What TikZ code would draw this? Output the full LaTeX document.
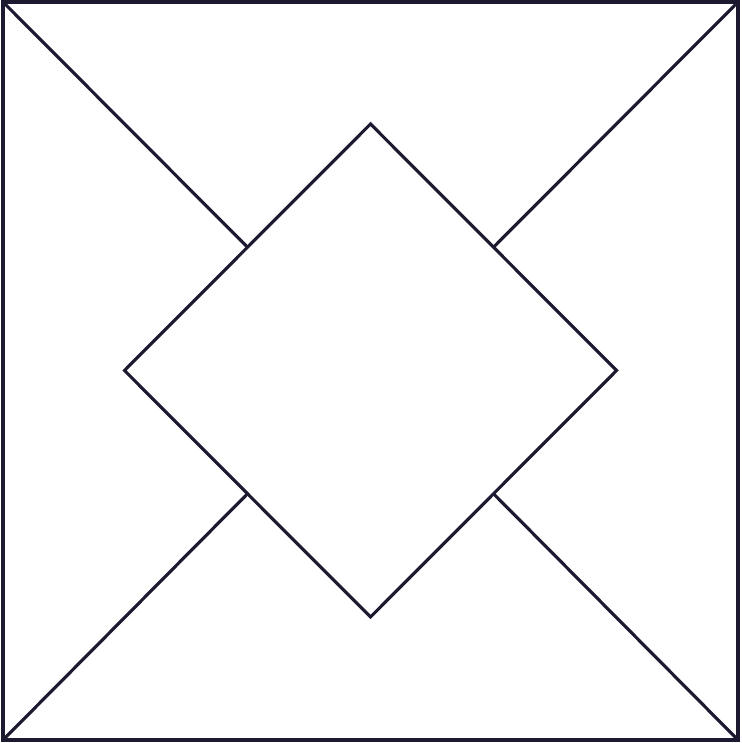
\documentclass[tikz,border=0pt]{standalone}
\usepackage{tikz}
\usetikzlibrary{calc}

\definecolor{ink}{HTML}{1C1A30}

\begin{document}
\begin{tikzpicture}[
    outline/.style={draw=ink, line width=0.9pt, line join=miter},
    diag/.style={draw=ink, line width=0.9pt}
]

\useasboundingbox (0,0) rectangle (7.41,7.43);

% Outer square
\coordinate (sw) at (0.03,0.03);
\coordinate (se) at (7.38,0.03);
\coordinate (ne) at (7.38,7.41);
\coordinate (nw) at (0.03,7.41);
\draw[outline] (sw) -- (se) -- (ne) -- (nw) -- cycle;

% Diamond
\coordinate (top) at (3.705,6.19);
\coordinate (right) at (6.165,3.725);
\coordinate (bottom) at (3.705,1.26);
\coordinate (left) at (1.245,3.725);
\draw[outline] (top) -- (right) -- (bottom) -- (left) -- cycle;

% Diagonals up to the diamond
\draw[diag] (nw) -- ($(top)!0.5!(left)$);
\draw[diag] (ne) -- ($(top)!0.5!(right)$);
\draw[diag] (sw) -- ($(bottom)!0.5!(left)$);
\draw[diag] (se) -- ($(bottom)!0.5!(right)$);

\end{tikzpicture}
\end{document}
